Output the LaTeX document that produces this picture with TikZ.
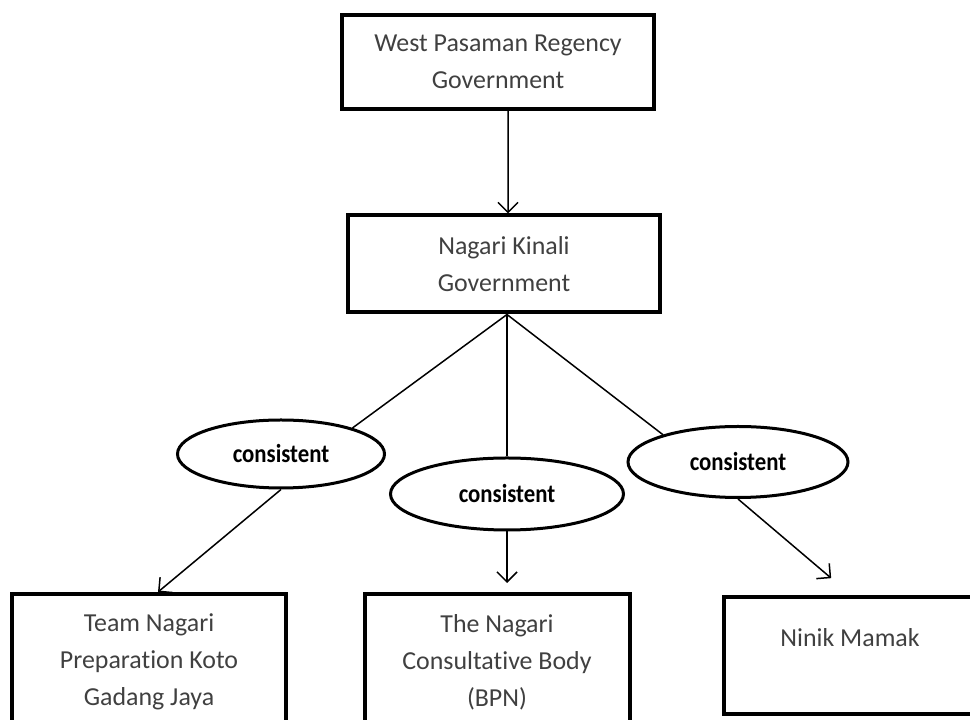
\documentclass[tikz,border=0pt]{standalone}
\usepackage{fontspec}
\setmainfont[Ligatures=NoCommon]{Carlito}
\newfontfamily\ovalfont[FakeStretch=0.88, Ligatures=NoCommon]{Carlito}
\usepackage{tikz}
\usetikzlibrary{arrows.meta, positioning, shapes}

\begin{document}
\begin{tikzpicture}[x=1bp, y=1bp, >={Straight Barb[length=10bp, width=20bp]},
  unit/.style={draw, line width=4bp, align=center, text=black!75, inner sep=0pt,
    font=\fontsize{26}{37}\selectfont},
  oval/.style={ellipse, draw, line width=3bp, inner sep=0pt,
    font=\ovalfont\bfseries\fontsize{26}{30}\selectfont},
  link/.style={line width=1.5bp}]
  \useasboundingbox (0, 0) rectangle (970, 720);
  \clip (0, 0) rectangle (970, 720);

  \node[unit, minimum width=312bp, minimum height=94bp] (wpr) at (498, 658)
    {West Pasaman Regency\\Government};
  \node[unit, minimum width=312bp, minimum height=97bp] (nkg) at (504, 456)
    {Nagari Kinali\\Government};

  \node[oval, minimum width=207bp, minimum height=68bp] (ellL) at (281, 266) {consistent};
  \node[oval, minimum width=233bp, minimum height=72bp] (ellM) at (507, 226) {consistent};
  \node[oval, minimum width=220bp, minimum height=71bp] (ellR) at (738, 258) {consistent};

  % bottom row, partly cut off by the page edge
  \node[unit, minimum width=273bp, minimum height=136bp, anchor=north] (tnp) at (149, 128)
    {Team Nagari\\Preparation Koto\\Gadang Jaya};
  \node[unit, minimum width=265bp, minimum height=136bp, anchor=north] (bpn) at (497, 128)
    {The Nagari\\Consultative Body\\(BPN)};
  \node[unit, minimum width=254bp, minimum height=117bp, anchor=north] (nm) at (851, 125) {};
  \node[text=black!75, font=\fontsize{26}{37}\selectfont] (nmtext) at (850, 82) {Ninik Mamak};

  \draw[link, ->] ([xshift=10bp]wpr.south) -- ([xshift=4bp]nkg.north);

  \draw[link] (ellM.north |- nkg.south) -- (ellL.20);
  \draw[link] (ellM.north |- nkg.south) -- (ellM.north);
  \draw[link] (ellM.north |- nkg.south) -- (ellR.160);

  \draw[link, ->] (ellL.south) -- ([xshift=9bp]tnp.north);
  \draw[link, ->, shorten >=9bp] (ellM.south) -- (ellM.south |- bpn.north);
  \draw[link, ->, shorten >=26bp] (ellR.south) -- (nm.north);
\end{tikzpicture}
\end{document}
